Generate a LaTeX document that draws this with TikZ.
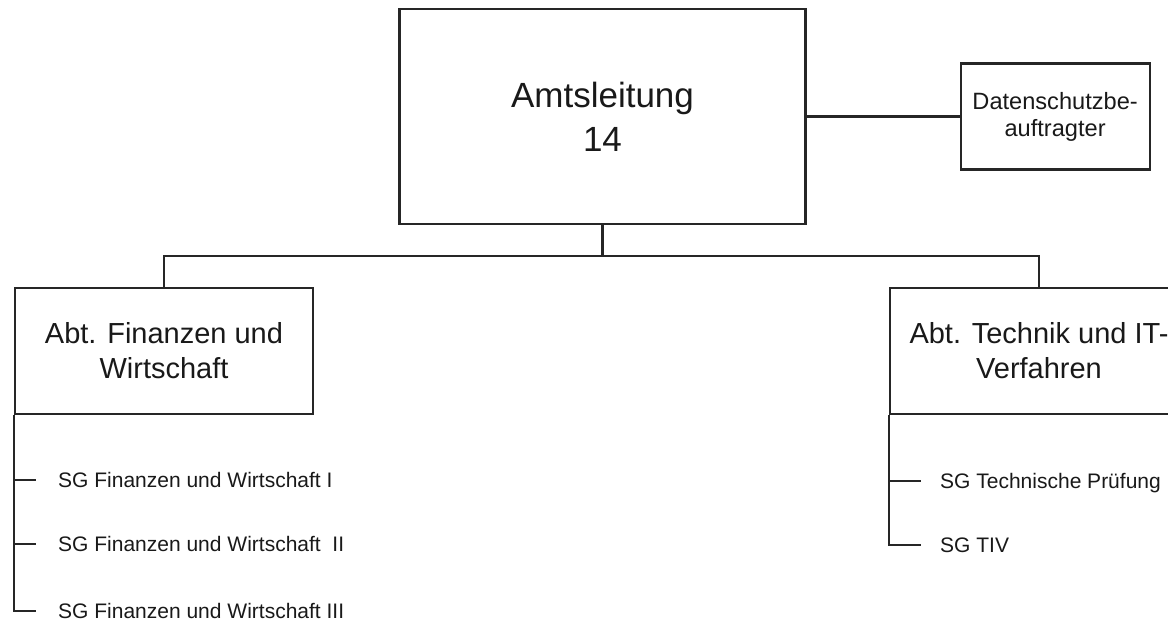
\documentclass[tikz,border=0pt]{standalone}
\usepackage{fontspec}
\setmainfont{Liberation Sans}
\usepackage{tikz}
\usetikzlibrary{positioning, calc}

\begin{document}
\begin{tikzpicture}[
  x=1pt, y=1pt,
  line/.style={line width=2.1pt, draw=black!85},
  box/.style={rectangle, line, align=center, inner sep=0pt, text=black!90},
  head/.style={box, minimum width=406pt, minimum height=215pt, font=\fontsize{35}{44}\selectfont},
  staff/.style={box, minimum width=189pt, minimum height=106pt, font=\fontsize{23.6}{27}\selectfont},
  dept/.style={box, minimum width=298pt, minimum height=126pt, font=\fontsize{29}{35}\selectfont},
  sg/.style={anchor=west, inner sep=0pt, text height=15pt, text depth=0pt, font=\fontsize{21}{25}\selectfont, text=black!90}
]
\useasboundingbox (0,0) rectangle (1168,-621);
\clip (0,0) rectangle (1168,-621);

% Leitung
\node[head] (leitung) at (602.5,-116.5) {Amtsleitung\\14};
\node[staff, right=153pt of leitung] (dsb) {Datenschutzbe-\\auftragter};

% Abteilungen
\node[dept] (abtfin) at (164,-351) {Abt. Finanzen und\\Wirtschaft};
\node[dept] (abttech) at (1039,-351) {Abt. Technik und IT-\\Verfahren};

% Sachgebiete
\node[sg] (sgf1) at (58,-480) {SG Finanzen und Wirtschaft I};
\node[sg] (sgf2) at (58,-544) {SG Finanzen und Wirtschaft~~II};
\node[sg] (sgf3) at (58,-611) {SG Finanzen und Wirtschaft III};
\node[sg] (sgt1) at (940,-481) {SG Technische Prüfung};
\node[sg] (sgt2) at (940,-545) {SG TIV};

% Linien Leitung
\draw[line] (leitung.east) -- (dsb.west);
\draw[line] (leitung.south) -- ++(0,-31) -| (abtfin.north);
\draw[line] (leitung.south) -- ++(0,-31) -| (abttech.north);

% Linien Finanzen
\draw[line] (abtfin.south west) |- ([xshift=-22pt]sgf3.west);
\draw[line] (abtfin.west |- sgf1.west) -- ([xshift=-22pt]sgf1.west);
\draw[line] (abtfin.west |- sgf2.west) -- ([xshift=-22pt]sgf2.west);

% Linien Technik
\draw[line] (abttech.south west) |- ([xshift=-19pt]sgt2.west);
\draw[line] (abttech.west |- sgt1.west) -- ([xshift=-19pt]sgt1.west);

\end{tikzpicture}
\end{document}
